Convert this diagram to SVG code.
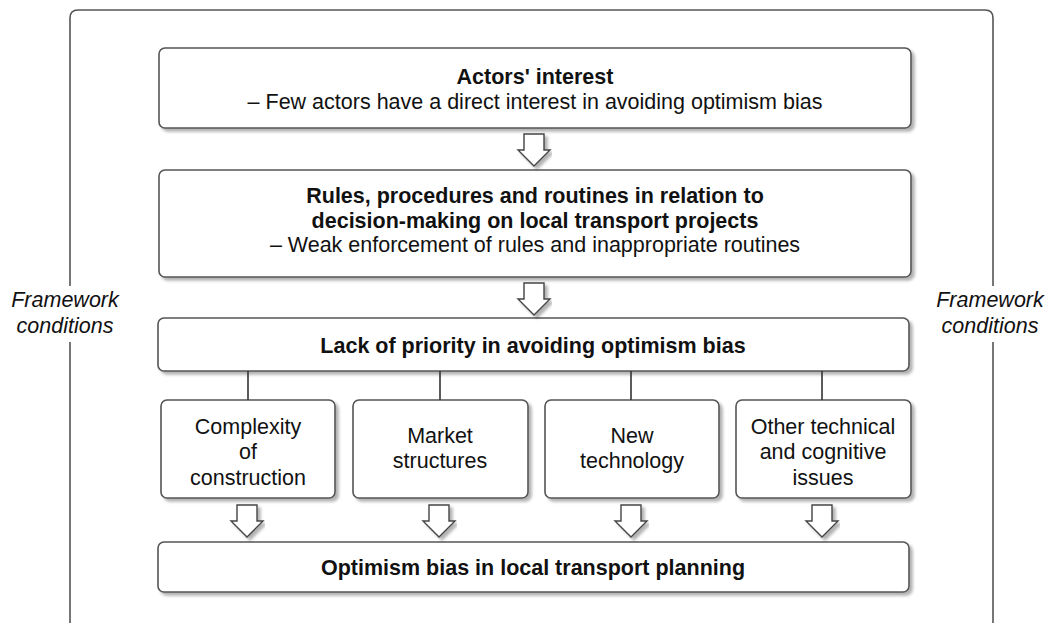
<svg xmlns="http://www.w3.org/2000/svg" width="1058" height="623" viewBox="0 0 1058 623">
<defs>
<filter id="sh" x="-5%" y="-20%" width="110%" height="150%">
<feDropShadow dx="3" dy="3" stdDeviation="1.5" flood-color="#000" flood-opacity="0.3"/>
</filter>
<path id="arr" d="M-10,0 H10 V16 H16 L0,32 L-16,16 H-10 Z"/>
</defs>
<style>
.box{fill:#fff;stroke:#555;stroke-width:1.6;filter:url(#sh)}
.t{font-family:"Liberation Sans",Arial,sans-serif;font-size:21.5px;fill:#111;text-anchor:middle}
.b{font-weight:bold}
.i{font-style:italic}
.ln{stroke:#333;stroke-width:1.6;fill:none}
.ar{fill:#fff;stroke:#444;stroke-width:1.4;filter:url(#sh)}
</style>
<rect width="1058" height="623" fill="#fff"/>
<g id="frame">
<path d="M70,625 V18 Q70,10 78,10 H985 Q993,10 993,18 V625" fill="none" stroke="#555" stroke-width="1.6"/>
<rect x="0" y="286" width="140" height="56" fill="#fff"/>
<rect x="925" y="286" width="133" height="56" fill="#fff"/>
</g>
<g id="fc-left"><text class="t i" x="65" y="307">Framework</text><text class="t i" x="65" y="333">conditions</text></g>
<g id="fc-right"><text class="t i" x="990" y="307">Framework</text><text class="t i" x="990" y="333">conditions</text></g>
<g id="actors">
<rect class="box" x="159" y="48" width="752" height="80" rx="6"/>
<text class="t b" x="535" y="84">Actors' interest</text>
<text class="t" x="535" y="109">– Few actors have a direct interest in avoiding optimism bias</text>
</g>
<g id="rules">
<rect class="box" x="159" y="170" width="752" height="107" rx="6"/>
<text class="t b" x="535" y="203">Rules, procedures and routines in relation to</text>
<text class="t b" x="535" y="228">decision-making on local transport projects</text>
<text class="t" x="535" y="252">– Weak enforcement of rules and inappropriate routines</text>
</g>
<g id="lack">
<rect class="box" x="158" y="318" width="751" height="53" rx="6"/>
<text class="t b" x="533" y="353">Lack of priority in avoiding optimism bias</text>
</g>
<g id="complexity">
<rect class="box" x="161" y="400" width="174" height="98" rx="6"/>
<text class="t" x="248" y="434">Complexity</text><text class="t" x="248" y="459">of</text><text class="t" x="248" y="485">construction</text>
</g>
<g id="market">
<rect class="box" x="353" y="400" width="175" height="98" rx="6"/>
<text class="t" x="440" y="443">Market</text><text class="t" x="440" y="468">structures</text>
</g>
<g id="newtech">
<rect class="box" x="545" y="400" width="174" height="98" rx="6"/>
<text class="t" x="632" y="443">New</text><text class="t" x="632" y="468">technology</text>
</g>
<g id="other">
<rect class="box" x="736" y="400" width="175" height="98" rx="6"/>
<text class="t" x="823" y="434">Other technical</text><text class="t" x="823" y="459">and cognitive</text><text class="t" x="823" y="485">issues</text>
</g>
<g id="optimism">
<rect class="box" x="158" y="542" width="751" height="50" rx="6"/>
<text class="t b" x="533" y="575">Optimism bias in local transport planning</text>
</g>
<g id="connectors">
<use href="#arr" class="ar" x="534" y="134"/>
<use href="#arr" class="ar" x="534" y="283"/>
<line class="ln" x1="248" y1="371" x2="248" y2="400"/>
<line class="ln" x1="440" y1="371" x2="440" y2="400"/>
<line class="ln" x1="631" y1="371" x2="631" y2="400"/>
<line class="ln" x1="822" y1="371" x2="822" y2="400"/>
<use href="#arr" class="ar" x="247" y="505"/>
<use href="#arr" class="ar" x="439" y="505"/>
<use href="#arr" class="ar" x="631" y="505"/>
<use href="#arr" class="ar" x="822" y="505"/>
</g>
</svg>
